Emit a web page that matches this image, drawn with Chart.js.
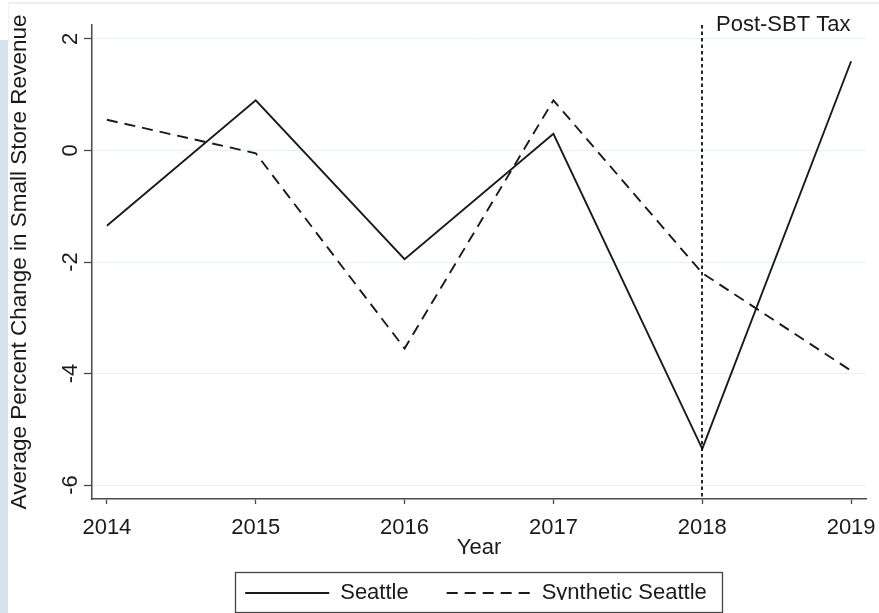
<!DOCTYPE html>
<html><head><meta charset="utf-8">
<script src="https://cdn.jsdelivr.net/npm/chart.js@4/dist/chart.umd.min.js"></script>
<style>
html,body{margin:0;padding:0;background:#fff;}
#wrap{position:relative;width:879px;height:613px;overflow:hidden;}
#strip{position:absolute;left:0;top:40px;width:8px;height:573px;background:#d6e3ec;}
#topline{position:absolute;left:8px;top:2px;right:0;height:2px;background:#edf1f4;}
#vline{position:absolute;left:8px;top:2px;width:1px;height:40px;background:#edf1f4;}
canvas{position:absolute;left:0;top:0;}
</style></head><body>
<div id="wrap"><div id="strip"></div><div id="topline"></div><div id="vline"></div><canvas id="c" width="879" height="613"></canvas></div>
<script>
const years = [2014, 2015, 2016, 2017, 2018, 2019];
const seattle = [-1.35, 0.9, -1.95, 0.3, -5.35, 1.6];
const synthetic = [0.55, -0.05, -3.55, 0.9, -2.2, -3.95];
const yTicks = [-6, -4, -2, 0, 2];
const xTicks = years;
const seriesLabels = ['Seattle', 'Synthetic Seattle'];
const treatYear = 2018;
const annotationText = 'Post-SBT Tax';
const xTitle = 'Year';
const yTitle = 'Average Percent Change in Small Store Revenue';

const FAMILY = '"Liberation Sans", Arial, Helvetica, sans-serif';
const FS = 22;
const TXT = '#1a1a1a';
const AX = '#4a4a4a';
Chart.defaults.font.family = FAMILY;
Chart.defaults.color = TXT;

const deco = {
  id: 'deco',
  afterLayout(chart) {
    const lg = chart.legend;
    lg.left += 43; lg.right += 43;
    lg.top -= 13; lg.bottom -= 13;
  },
  afterDatasetsDraw(chart) {
    const {ctx, chartArea, scales: {x}} = chart;
    const px = Math.round(x.getPixelForValue(treatYear));
    ctx.save();
    ctx.strokeStyle = '#111';
    ctx.lineWidth = 1.8;
    ctx.setLineDash([3.5, 3]);
    ctx.beginPath();
    ctx.moveTo(px, chartArea.top);
    ctx.lineTo(px, chartArea.bottom);
    ctx.stroke();
    ctx.setLineDash([]);
    ctx.fillStyle = TXT;
    ctx.font = FS + 'px ' + FAMILY;
    ctx.textBaseline = 'middle';
    ctx.textAlign = 'left';
    ctx.fillText(annotationText, px + 14, chartArea.top);
    ctx.restore();
  },
  afterDraw(chart) {
    const {ctx} = chart;
    const hb = chart.legend.legendHitBoxes;
    if (!hb || !hb.length) return;
    const first = hb[0], last = hb[hb.length - 1];
    const cy = first.top + first.height / 2;
    const l = Math.round(first.left - 10) + 0.5;
    const r = Math.round(last.left + last.width + 15) + 0.5;
    const t = Math.round(cy - 21) + 0.5;
    ctx.save();
    ctx.strokeStyle = '#444';
    ctx.lineWidth = 1.3;
    ctx.strokeRect(l, t, r - l, 40);
    ctx.restore();
  }
};

new Chart(document.getElementById('c'), {
  type: 'line',
  data: {
    datasets: [
      {
        label: seriesLabels[0],
        data: years.map((x, i) => ({x: x, y: seattle[i]})),
        borderColor: '#1a1a1a', backgroundColor: '#1a1a1a',
        borderWidth: 1.9, pointRadius: 0, fill: false, tension: 0
      },
      {
        label: seriesLabels[1],
        data: years.map((x, i) => ({x: x, y: synthetic[i]})),
        borderColor: '#1a1a1a', backgroundColor: '#1a1a1a',
        borderWidth: 1.9, borderDash: [11, 7], pointRadius: 0, fill: false, tension: 0
      }
    ]
  },
  options: {
    responsive: false,
    animation: false,
    events: [],
    layout: {padding: {top: 25, right: 13, left: 0, bottom: 0}},
    plugins: {
      legend: {
        position: 'bottom',
        maxHeight: 56,
        labels: {
          usePointStyle: true, pointStyle: 'line', pointStyleWidth: 84,
          padding: 38, color: TXT, font: {size: FS},
          generateLabels: chart => {
            const items = Chart.defaults.plugins.legend.labels.generateLabels(chart);
            items.forEach((it, i) => {
              const ds = chart.data.datasets[it.datasetIndex !== undefined ? it.datasetIndex : i];
              it.lineDash = ds.borderDash || [];
              it.lineWidth = ds.borderWidth;
              it.strokeStyle = ds.borderColor;
            });
            return items;
          }
        }
      },
      tooltip: {enabled: false}
    },
    scales: {
      x: {
        type: 'linear', min: 2013.9, max: 2019.1,
        afterBuildTicks: s => { s.ticks = xTicks.map(v => ({value: v})); },
        afterFit: s => { s.height = 58; s.paddingRight = 0; s.paddingLeft = 0; },
        grid: {drawOnChartArea: false, tickLength: 5, tickColor: AX, tickWidth: 1.3},
        border: {color: AX, width: 1.5},
        ticks: {callback: v => String(v), padding: 11, maxRotation: 0, autoSkip: false, color: TXT, font: {size: FS}},
        title: {display: true, text: xTitle, color: TXT, font: {size: FS, lineHeight: 1.0}, padding: {top: 0, bottom: -2}}
      },
      y: {
        min: -6.25, max: 2.25,
        afterBuildTicks: s => { s.ticks = yTicks.map(v => ({value: v})); },
        afterFit: s => { s.width = 92; },
        grid: {color: '#e9f0f3', lineWidth: 1, tickLength: 8, tickColor: AX, tickWidth: 1.3},
        border: {color: AX, width: 1.5},
        ticks: {minRotation: 90, maxRotation: 90, crossAlign: 'center', padding: 3, autoSkip: false, color: TXT, font: {size: FS}, callback: v => String(v)},
        title: {display: true, text: yTitle, color: TXT, font: {size: 22.5}, padding: {top: 6, bottom: 0}}
      }
    }
  },
  plugins: [deco]
});
</script>
</body></html>
